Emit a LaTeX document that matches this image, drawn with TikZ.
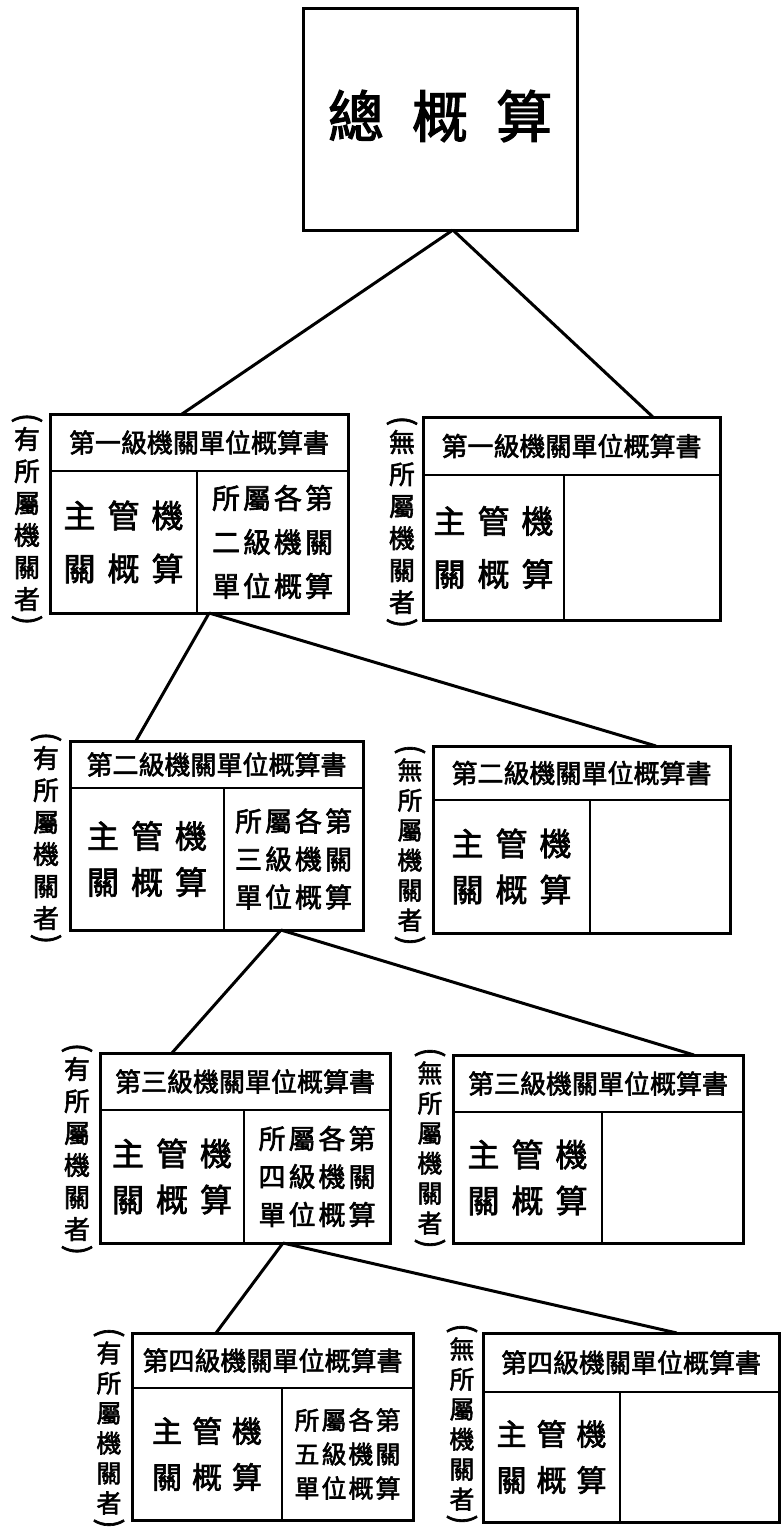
\documentclass[tikz,border=0pt]{standalone}
\usepackage{fontspec}
\newfontfamily\cjk[FakeBold=2.2]{Noto Sans CJK TC}
\usetikzlibrary{calc}
\newcommand\chgap[1]{\hspace{#1pt}}
\newcommand\mainlabel[1]{主\chgap{#1}管\chgap{#1}機\\關\chgap{#1}概\chgap{#1}算}
\newcommand\sublabel[2]{所\chgap{#1}屬\chgap{#1}各\chgap{#1}第\\#2\chgap{#1}級\chgap{#1}機\chgap{#1}關\\單\chgap{#1}位\chgap{#1}概\chgap{#1}算}
% name, left, top, right, bottom, title-bottom, divider, title
\newcommand\budgetunit[8]{%
  \node[unitbox, minimum width={#4-#2}, minimum height={#5-#3}, anchor=north west] (#1) at (#2,#3) {};
  \coordinate (#1-tl) at (#2,#6);
  \coordinate (#1-tr) at (#4,#6);
  \coordinate (#1-dt) at (#7,#6);
  \coordinate (#1-db) at (#7,#5);
  \draw[rule] (#1-tl) -- (#1-tr);
  \draw[rule] (#1-dt) -- (#1-db);
  \coordinate (#1-lc) at ({(#2+#7)/2},{(#6+#5)/2});
  \coordinate (#1-rc) at ({(#7+#4)/2},{(#6+#5)/2});
  \node[titletext] (#1-title) at ({(#2+#4)/2},{(#3+#6)/2}) {#8};
}
% style, name, x, y, first char
\newcommand\sidelabel[5]{%
  \node[#1] (#2) at (#3,#4) {#5\\所\\屬\\機\\關\\者};
  \node[parentext, rotate=-90] (#2-open) at ([yshift=9pt]#2.north) {(};
  \node[parentext, rotate=-90] (#2-close) at ([yshift=-9pt]#2.south) {)};
}
\tikzset{
  every node/.style={inner sep=0pt, outer sep=0pt},
  unitbox/.style={draw, line width=3pt, rectangle},
  topbox/.style={draw, line width=3pt, rectangle},
  rule/.style={line width=2.8pt},
  link/.style={line width=3pt},
  titletext/.style={font=\cjk\fontsize{26}{30}\selectfont},
  sidetext/.style={align=center, font=\cjk\fontsize{26}{32}\selectfont},
  sidetextS/.style={align=center, font=\cjk\fontsize{25}{30}\selectfont},
  parentext/.style={font=\cjk\fontsize{30}{30}\selectfont},
  mainA/.style={align=center, font=\cjk\fontsize{32}{53}\selectfont},
  mainB/.style={align=center, font=\cjk\fontsize{32}{46}\selectfont},
  mainC/.style={align=center, font=\cjk\fontsize{30}{46}\selectfont},
  subA/.style={align=center, font=\cjk\fontsize{28}{44}\selectfont},
  subB/.style={align=center, font=\cjk\fontsize{27}{38}\selectfont},
  subC/.style={align=center, font=\cjk\fontsize{25}{34}\selectfont},
}
\begin{document}
\begin{tikzpicture}[x=1pt,y=-1pt]
\useasboundingbox (0,0) rectangle (782,1535);
\fill[white] (0,0) rectangle (782,1535);

% top
\node[topbox, minimum width=274, minimum height=222, anchor=north west] (top) at (303,8) {};
\node[font=\cjk\fontsize{56}{60}\selectfont] (toplabel) at (440,116) {總\chgap{28}概\chgap{28}算};

% level 1
\budgetunit{u1a}{50}{414}{348}{613}{471}{197}{第一級機關單位概算書}
\node[mainA] (u1a-main) at (u1a-lc) {\mainlabel{12}};
\node[subA] (u1a-sub) at (u1a-rc) {\sublabel{3}{二}};
\sidelabel{sidetext}{s1a}{27}{519}{有}
\budgetunit{u1b}{423}{417}{720}{620}{475}{564}{第一級機關單位概算書}
\node[mainA] (u1b-main) at (u1b-lc) {\mainlabel{12}};
\sidelabel{sidetext}{s1b}{402}{522}{無}

% level 2
\budgetunit{u2a}{70}{741}{363}{930}{788}{224}{第二級機關單位概算書}
\node[mainB] (u2a-main) at (u2a-lc) {\mainlabel{12}};
\node[subB] (u2a-sub) at (u2a-rc) {\sublabel{3}{三}};
\sidelabel{sidetext}{s2a}{46}{838}{有}
\budgetunit{u2b}{433}{746}{730}{933}{800}{590}{第二級機關單位概算書}
\node[mainB] (u2b-main) at (u2b-lc) {\mainlabel{12}};
\sidelabel{sidetextS}{s2b}{410}{845}{無}

% level 3
\budgetunit{u3a}{100}{1053}{390}{1243}{1110}{244}{第三級機關單位概算書}
\node[mainB] (u3a-main) at (u3a-lc) {\mainlabel{12}};
\node[subB] (u3a-sub) at (u3a-rc) {\sublabel{3}{四}};
\sidelabel{sidetext}{s3a}{77}{1149}{有}
\budgetunit{u3b}{453}{1055}{743}{1243}{1112}{602}{第三級機關單位概算書}
\node[mainB] (u3b-main) at (u3b-lc) {\mainlabel{12}};
\sidelabel{sidetextS}{s3b}{430}{1148}{無}

% level 4
\budgetunit{u4a}{132}{1333}{413}{1520}{1388}{282}{第四級機關單位概算書}
\node[mainC] (u4a-main) at (u4a-lc) {\mainlabel{10}};
\node[subC] (u4a-sub) at (u4a-rc) {\sublabel{2}{五}};
\sidelabel{sidetextS}{s4a}{109}{1428}{有}
\budgetunit{u4b}{483}{1333}{779}{1522}{1392}{620}{第四級機關單位概算書}
\node[mainC] (u4b-main) at (u4b-lc) {\mainlabel{10}};
\sidelabel{sidetextS}{s4b}{462}{1424}{無}

% connectors
\draw[link] ($(top.south west)!0.547!(top.south east)$) -- ($(u1a.north west)!0.443!(u1a.north east)$);
\draw[link] ($(top.south west)!0.547!(top.south east)$) -- ($(u1b.north west)!0.774!(u1b.north east)$);
\draw[link] ($(u1a.south west)!0.534!(u1a.south east)$) -- ($(u2a.north west)!0.225!(u2a.north east)$);
\draw[link] ($(u1a.south west)!0.534!(u1a.south east)$) -- ($(u2b.north west)!0.751!(u2b.north east)$);
\draw[link] ($(u2a.south west)!0.72!(u2a.south east)$) -- ($(u3a.north west)!0.248!(u3a.north east)$);
\draw[link] ($(u2a.south west)!0.72!(u2a.south east)$) -- ($(u3b.north west)!0.831!(u3b.north east)$);
\draw[link] ($(u3a.south west)!0.631!(u3a.south east)$) -- ($(u4a.north west)!0.299!(u4a.north east)$);
\draw[link] ($(u3a.south west)!0.631!(u3a.south east)$) -- ($(u4b.north west)!0.655!(u4b.north east)$);
\end{tikzpicture}
\end{document}
